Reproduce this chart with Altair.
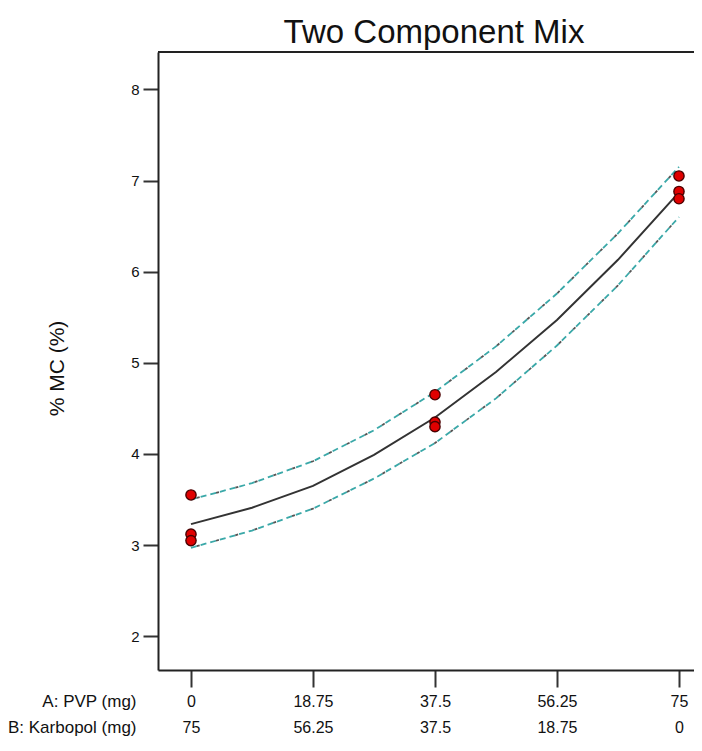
import altair as alt
import pandas as pd

# ---- data ----
pvp_ticks = [0, 18.75, 37.5, 56.25, 75]
y_ticks = [2, 3, 4, 5, 6, 7, 8]

curve_x = [0, 9.375, 18.75, 28.125, 37.5, 46.875, 56.25, 65.625, 75]
fit_mean = [3.23, 3.41, 3.65, 3.99, 4.40, 4.90, 5.47, 6.13, 6.87]
fit_upper = [3.50, 3.68, 3.92, 4.26, 4.68, 5.18, 5.76, 6.42, 7.15]
fit_lower = [2.97, 3.16, 3.40, 3.73, 4.12, 4.61, 5.19, 5.85, 6.60]

obs_x = [0, 0, 0, 37.5, 37.5, 37.5, 75, 75, 75]
obs_y = [3.55, 3.12, 3.05, 4.65, 4.35, 4.30, 7.05, 6.88, 6.80]

curve = pd.DataFrame({"x": curve_x, "mean": fit_mean, "upper": fit_upper, "lower": fit_lower})
band = pd.concat([
    pd.DataFrame({"x": curve_x, "y": fit_upper, "band": "upper"}),
    pd.DataFrame({"x": curve_x, "y": fit_lower, "band": "lower"}),
])
pts = pd.DataFrame({"x": obs_x, "y": obs_y})

FONT = "Liberation Sans"
W, H = 536, 618
xscale = alt.Scale(domain=[-5.07, 77.31], nice=False, zero=False)
yscale = alt.Scale(domain=[1.63, 8.41], nice=False, zero=False)

xaxis = alt.Axis(
    values=pvp_ticks,
    labelExpr="['' + datum.value, '' + (75 - datum.value)]",
    labelOverlap=False, labelFlush=False, labelBound=False,
    labelFont=FONT, labelFontSize=16, labelColor="#111",
    labelBaseline="top", labelPadding=6, labelLineHeight=26,
    tickSize=17, tickWidth=2, tickColor="#333",
    domainColor="#222", domainWidth=2,
    grid=False,
    title=["A: PVP (mg)", "B: Karbopol (mg)"],
    titleFont=FONT, titleFontSize=17, titleFontWeight="normal", titleColor="#111",
    titleAngle=0, titleAlign="right", titleBaseline="top",
    titleX=-22, titleY=23, titleLineHeight=26,
)
yaxis = alt.Axis(
    values=y_ticks, format="d",
    labelFont=FONT, labelFontSize=15, labelColor="#111", labelPadding=4,
    tickSize=15, tickWidth=2, tickColor="#333",
    domainColor="#222", domainWidth=2,
    grid=False,
    title="% MC (%)",
    titleFont=FONT, titleFontSize=21, titleFontWeight="normal", titleColor="#111",
    titleAngle=270, titleAlign="center", titleBaseline="middle",
    titleX=-101, titleY=316,
)

base = alt.Chart(curve)

mean_line = base.mark_line(color="#333333", strokeWidth=2).encode(
    x=alt.X("x:Q", scale=xscale, axis=xaxis),
    y=alt.Y("mean:Q", scale=yscale, axis=yaxis),
)

band_teal = alt.Chart(band).mark_line(color="#3aa8a8", strokeWidth=1.8, strokeDash=[6, 4]).encode(
    x=alt.X("x:Q", scale=xscale),
    y=alt.Y("y:Q", scale=yscale),
    detail="band:N",
)
band_gray = alt.Chart(band).mark_line(color="#555555", strokeWidth=1.8, strokeDash=[3, 17],
                                      strokeDashOffset=-6).encode(
    x=alt.X("x:Q", scale=xscale),
    y=alt.Y("y:Q", scale=yscale),
    detail="band:N",
)

points = alt.Chart(pts).mark_point(
    shape="circle", filled=True, size=105, fill="#e00000", stroke="#4a0000", strokeWidth=1.4, opacity=1
).encode(
    x=alt.X("x:Q", scale=xscale),
    y=alt.Y("y:Q", scale=yscale),
)

top_border = alt.Chart(curve).mark_rule(color="#222", strokeWidth=2).encode(
    x=alt.value(0), x2=alt.value(W), y=alt.value(0)
)

chart = alt.layer(top_border, band_teal, band_gray, mean_line, points).properties(
    width=W, height=H,
    autosize=alt.AutoSizeParams(type="none"),
    padding={"left": 150, "top": 44, "right": 0, "bottom": 68},
    title=alt.TitleParams(
        "Two Component Mix", font=FONT, fontSize=33, fontWeight="normal", color="#111",
        anchor="middle", offset=1, dx=8,
    ),
).configure_view(stroke=None)

chart.save("out.html", embed_options={"renderer": "svg", "actions": False})
